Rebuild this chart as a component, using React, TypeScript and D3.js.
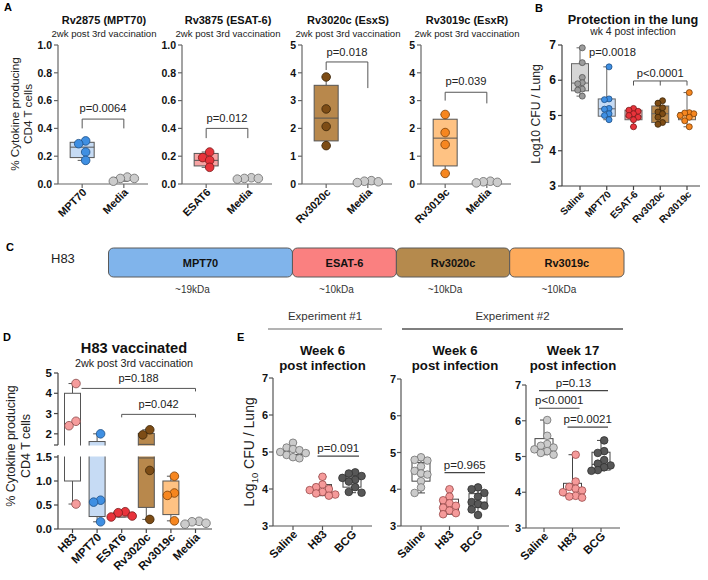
import React from 'react';
import * as d3 from 'd3';

const FONT = "Arial, 'Liberation Sans', Helvetica, sans-serif";

// ---------------- Panel A data ----------------
const A_TITLES = ['Rv2875 (MPT70)', 'Rv3875 (ESAT-6)', 'Rv3020c (EsxS)', 'Rv3019c (EsxR)'];
const A_SUBTITLE = '2wk post 3rd vaccination';
const A_CATEGORIES = [['MPT70', 'Media'], ['ESAT6', 'Media'], ['Rv3020c', 'Media'], ['Rv3019c', 'Media']];
const A_YMAX = [1.0, 1.0, 5, 5];
const A_TICKS = [[0, 0.2, 0.4, 0.6, 0.8, 1.0], [0, 0.2, 0.4, 0.6, 0.8, 1.0], [0, 1, 2, 3, 4, 5], [0, 1, 2, 3, 4, 5]];
const A_TICK_DECIMALS = [1, 1, 0, 0];
const A_POINTS = [
  [[0.31, 0.29, 0.23, 0.17], [0.05, 0.04, 0.04, 0.02]],
  [[0.23, 0.19, 0.17, 0.12], [0.045, 0.04, 0.04, 0.035]],
  [[3.85, 2.7, 2.07, 1.38], [0.12, 0.1, 0.08, 0.05]],
  [[2.5, 1.85, 1.42, 0.38], [0.1, 0.08, 0.06, 0.04]],
];
// [min, q1, median, q3, max]
const A_BOXES = [
  [[0.17, 0.19, 0.265, 0.30, 0.31], [0.02, 0.03, 0.04, 0.045, 0.05]],
  [[0.12, 0.13, 0.17, 0.22, 0.23], [0.035, 0.037, 0.04, 0.043, 0.045]],
  [[1.38, 1.55, 2.37, 3.55, 3.85], [0.05, 0.06, 0.09, 0.11, 0.12]],
  [[0.38, 0.65, 1.65, 2.33, 2.5], [0.04, 0.05, 0.07, 0.09, 0.1]],
];
const A_PVALUES = ['p=0.0064', 'p=0.012', 'p=0.018', 'p=0.039'];
// [bar, left leg end, right leg end, label centre]
const A_BRACKETS = [
  [0.467, 0.40, 0.40, 0.545],
  [0.40, 0.33, 0.33, 0.474],
  [4.39, 4.1, 3.45, 4.75],
  [3.3, 3.0, 2.9, 3.7],
];

// ---------------- Panel B data ----------------
const B_TITLE = 'Protection in the lung';
const B_SUBTITLE = 'wk 4 post infection';
const B_CATEGORIES = ['Saline', 'MPT70', 'ESAT-6', 'Rv3020c', 'Rv3019c'];
const B_TICKS = [3, 4, 5, 6, 7];
const B_POINTS = [
  [6.92, 6.5, 6.08, 5.93, 5.9, 5.75, 5.72, 5.55],
  [6.38, 5.47, 5.45, 5.2, 5.18, 5.05, 5.0, 4.88],
  [5.2, 5.15, 5.12, 5.05, 5.0, 4.95, 4.88, 4.68],
  [5.42, 5.35, 5.22, 5.1, 5.05, 4.95, 4.8, 4.75],
  [5.65, 5.08, 5.07, 5.05, 5.0, 4.95, 4.85, 4.68],
];
const B_BOXES = [
  [5.55, 5.7, 5.92, 6.47, 6.92],
  [4.88, 4.98, 5.19, 5.47, 6.38],
  [4.68, 4.88, 4.98, 5.15, 5.2],
  [4.75, 4.8, 5.05, 5.27, 5.42],
  [4.68, 4.88, 5.0, 5.08, 5.65],
];
const B_P1 = { text: 'p=0.0018', y: 6.8 };
const B_P2 = { text: 'p<0.0001', bar: 5.98, leg: 5.85, label: 6.2 };

// ---------------- Panel C data ----------------
const C_CONSTRUCT = 'H83';
const C_SEGMENTS = ['MPT70', 'ESAT-6', 'Rv3020c', 'Rv3019c'];
const C_SIZES = ['~19kDa', '~10kDa', '~10kDa', '~10kDa'];
const C_REL_LENGTHS = [1.77, 1.0, 1.09, 1.1];

// ---------------- Panel D data ----------------
const D_TITLE = 'H83 vaccinated';
const D_SUBTITLE = '2wk post 3rd vaccination';
const D_CATEGORIES = ['H83', 'MPT70', 'ESAT6', 'Rv3020c', 'Rv3019c', 'Media'];
const D_TICKS_UP = [2, 3, 4, 5];
const D_TICKS_LO = [0, 0.5, 1.0, 1.5];
const D_POINTS = [
  [4.48, 2.62, 2.4, 0.52],
  [2.0, 0.6, 0.56, 0.15],
  [0.36, 0.34, 0.27, 0.25],
  [2.2, 1.95, 1.22, 0.2],
  [1.1, 0.75, 0.7, 0.17],
  [0.16, 0.15, 0.12, 0.1],
];
const D_BOXES = [
  [0.52, 1.0, 2.51, 4.0, 4.48],
  [0.15, 0.26, 0.58, 1.62, 2.0],
  [0.25, 0.25, 0.3, 0.35, 0.36],
  [0.2, 0.45, 1.48, 2.02, 2.2],
  [0.17, 0.3, 0.72, 1.0, 1.1],
  [0.1, 0.11, 0.13, 0.155, 0.16],
];
// [from category, to category, bar value, text]
const D_BRACKETS: [number, number, number, string][] = [
  [0, 5, 4.24, 'p=0.188'],
  [2, 5, 2.96, 'p=0.042'],
];

// ---------------- Panel E data ----------------
const E_EXPERIMENTS = ['Experiment #1', 'Experiment #2'];
const E_TITLES = [['Week 6', 'post infection'], ['Week 6', 'post infection'], ['Week 17', 'post infection']];
const E_CATEGORIES = ['Saline', 'H83', 'BCG'];
const E_TICKS = [3, 4, 5, 6, 7];
const E_POINTS = [
  [
    [5.25, 5.12, 5.08, 5.05, 5.0, 4.97, 4.92, 4.86, 4.83],
    [4.33, 4.12, 4.05, 4.0, 3.97, 3.92, 3.88, 3.85, 3.82],
    [4.45, 4.42, 4.35, 4.3, 4.25, 4.2, 4.05, 3.92, 3.9],
  ],
  [
    [4.87, 4.8, 4.78, 4.62, 4.5, 4.43, 4.4, 4.22, 4.05, 3.9],
    [4.0, 3.8, 3.7, 3.62, 3.55, 3.5, 3.42, 3.35, 3.32],
    [4.05, 4.0, 3.9, 3.8, 3.65, 3.6, 3.55, 3.45, 3.3],
  ],
  [
    [6.02, 5.58, 5.35, 5.3, 5.25, 5.2, 5.15, 5.1, 5.05],
    [5.05, 4.3, 4.15, 4.1, 4.05, 4.0, 3.9, 3.88, 3.85],
    [5.45, 5.15, 5.1, 4.9, 4.8, 4.75, 4.7, 4.62, 4.6],
  ],
];
const E_BOXES = [
  [[4.83, 4.93, 5.02, 5.1, 5.25], [3.82, 3.88, 3.98, 4.12, 4.33], [3.9, 4.05, 4.27, 4.32, 4.45]],
  [[3.9, 4.22, 4.48, 4.73, 4.87], [3.32, 3.38, 3.57, 3.73, 4.0], [3.3, 3.5, 3.65, 3.88, 4.05]],
  [[5.05, 5.12, 5.22, 5.5, 6.02], [3.85, 3.9, 4.08, 4.25, 5.05], [4.6, 4.62, 4.78, 5.12, 5.45]],
];
const E_BRACKETS: [number, number, number, string][][] = [
  [[1, 2, 4.89, 'p=0.091']],
  [[1, 2, 4.45, 'p=0.965']],
  [[0, 2, 6.84, 'p=0.13'], [0, 1, 6.35, 'p<0.0001'], [1, 2, 5.82, 'p=0.0021']],
];

// ---------------- Styles ----------------
const PALETTE: Record<string, { box: string; pt: string; ptStroke: string }> = {
  MPT70: { box: '#c6dbf4', pt: '#3f8fe2', ptStroke: '#1d4f86' },
  ESAT6: { box: '#f7a3a3', pt: '#e8333b', ptStroke: '#7a1a1a' },
  'ESAT-6': { box: '#f7a3a3', pt: '#e8333b', ptStroke: '#7a1a1a' },
  Rv3020c: { box: '#b8884c', pt: '#7d4c15', ptStroke: '#3b2408' },
  Rv3019c: { box: '#fec283', pt: '#f6861f', ptStroke: '#7a3f08' },
  Media: { box: '#e8e8e8', pt: '#cccccc', ptStroke: '#6a6a6a' },
  Saline: { box: '#d6d6d6', pt: '#9c9c9c', ptStroke: '#555555' },
  H83: { box: '#ffffff', pt: '#f59c9c', ptStroke: '#8a4a4a' },
};
const E_PALETTE: Record<string, { pt: string; ptStroke: string }> = {
  Saline: { pt: '#cbcbcb', ptStroke: '#707070' },
  H83: { pt: '#f59a9a', ptStroke: '#9a4a4a' },
  BCG: { pt: '#575757', ptStroke: '#303030' },
};
const C_COLORS = ['#80b4eb', '#fa8080', '#b58a4d', '#fdaa5b'];

// ---------------- Helpers ----------------
function swarmOffsets(vals: number[], yf: (v: number) => number, r: number, tight = 1.7): number[] {
  const idx = vals.map((_, i) => i).sort((a, b) => vals[b] - vals[a]);
  const placed: [number, number][] = [];
  const out = vals.map(() => 0);
  const step = r * tight * 1.05;
  const minD = r * tight;
  for (const i of idx) {
    const y = yf(vals[i]);
    let chosen = 0;
    for (let k = 0; k < 14; k++) {
      const cand = k === 0 ? 0 : (k % 2 === 1 ? -1 : 1) * Math.ceil(k / 2) * step;
      if (placed.every(([px, py]) => Math.hypot(px - cand, py - y) >= minD)) {
        chosen = cand;
        break;
      }
    }
    placed.push([chosen, y]);
    out[i] = chosen;
  }
  const ext = d3.extent(out) as [number, number];
  const shift = (ext[0] + ext[1]) / 2;
  return out.map((o) => o - shift);
}

function Box({ cx, w, stats, y, fill, stroke = '#555', capW = 9, sw = 1 }: any) {
  const [mn, q1, md, q3, mx] = stats;
  return (
    <g stroke={stroke} strokeWidth={sw}>
      <line x1={cx} x2={cx} y1={y(mx)} y2={y(q3)} />
      <line x1={cx} x2={cx} y1={y(q1)} y2={y(mn)} />
      <line x1={cx - capW / 2} x2={cx + capW / 2} y1={y(mx)} y2={y(mx)} />
      <line x1={cx - capW / 2} x2={cx + capW / 2} y1={y(mn)} y2={y(mn)} />
      <rect x={cx - w / 2} y={y(q3)} width={w} height={Math.max(0.5, y(q1) - y(q3))} fill={fill} />
      <line x1={cx - w / 2} x2={cx + w / 2} y1={y(md)} y2={y(md)} />
    </g>
  );
}

function Points({ cx, vals, y, r, fill, stroke, tight = 1.7 }: any) {
  const offs = swarmOffsets(vals, y, r, tight);
  return (
    <g>
      {vals.map((v: number, i: number) => (
        <circle key={i} cx={cx + offs[i]} cy={y(v)} r={r} fill={fill} stroke={stroke} strokeWidth={0.8} />
      ))}
    </g>
  );
}

function XLabel({ x, y, text, size }: any) {
  return (
    <text transform={`translate(${x},${y}) rotate(-45)`} textAnchor="end" fontSize={size} fontWeight="bold" fill="#111">
      {text}
    </text>
  );
}

// ---------------- Panel A ----------------
function PanelA() {
  const x0s = [58, 182, 302, 421];
  const axW = 90;
  const yTop = 45;
  const yBot = 184;
  return (
    <g>
      <text x={4} y={11} fontSize={11} fontWeight="bold">A</text>
      <text transform="translate(19,114) rotate(-90)" textAnchor="middle" fontSize={11.7} fill="#222">% Cytokine producing</text>
      <text transform="translate(32,114) rotate(-90)" textAnchor="middle" fontSize={11.7} fill="#222">CD4 T cells</text>
      {A_TITLES.map((title, s) => {
        const x0 = x0s[s];
        const cats = A_CATEGORIES[s];
        const x = d3.scalePoint<string>().domain(cats).range([x0, x0 + axW]).padding(0.58);
        const y = d3.scaleLinear().domain([0, A_YMAX[s]]).range([yBot, yTop]);
        const [bar, lLeg, rLeg, lab] = A_BRACKETS[s];
        const xa = x(cats[0])!;
        const xb = x(cats[1])!;
        return (
          <g key={s}>
            <text x={x0 + 46} y={24} textAnchor="middle" fontSize={11} fontWeight="bold" fill="#111">{title}</text>
            <text x={x0 + 46} y={36.5} textAnchor="middle" fontSize={9.6} fill="#222">{A_SUBTITLE}</text>
            <line x1={x0} x2={x0} y1={yTop} y2={yBot} stroke="#666" strokeWidth={1.2} />
            <line x1={x0} x2={x0 + axW} y1={yBot} y2={yBot} stroke="#666" strokeWidth={1.2} />
            {A_TICKS[s].map((t) => (
              <g key={t}>
                <line x1={x0 - 4} x2={x0} y1={y(t)} y2={y(t)} stroke="#666" strokeWidth={1.2} />
                <text x={x0 - 6} y={y(t) + 3.8} textAnchor="end" fontSize={10.5} fontWeight="bold" fill="#111">
                  {t.toFixed(A_TICK_DECIMALS[s])}
                </text>
              </g>
            ))}
            {cats.map((c, ci) => {
              const pal = PALETTE[c];
              return (
                <g key={c}>
                  <line x1={x(c)!} x2={x(c)!} y1={yBot} y2={yBot + 4} stroke="#666" strokeWidth={1.2} />
                  <Box cx={x(c)!} w={24} stats={A_BOXES[s][ci]} y={y} fill={pal.box} stroke="#555" capW={9} />
                  <Points cx={x(c)!} vals={A_POINTS[s][ci]} y={y} r={4.3} fill={pal.pt} stroke={pal.ptStroke} tight={1.55} />
                  <XLabel x={x(c)! + 5} y={yBot + 9} text={c} size={10.8} />
                </g>
              );
            })}
            <path d={`M${xa},${y(lLeg)}V${y(bar)}H${xb}V${y(rLeg)}`} fill="none" stroke="#555" strokeWidth={1} />
            <text x={(xa + xb) / 2} y={y(lab) + 4} textAnchor="middle" fontSize={11.2} fill="#222">{A_PVALUES[s]}</text>
          </g>
        );
      })}
    </g>
  );
}

// ---------------- Panel B ----------------
function PanelB() {
  const x0 = 562;
  const x1 = 700;
  const yTop = 45;
  const yBot = 186;
  const x = d3.scalePoint<string>().domain(B_CATEGORIES).range([580, 687]);
  const y = d3.scaleLinear().domain([3, 7]).range([yBot, yTop]);
  const xa = x('ESAT-6')!;
  const xm = x('Rv3020c')!;
  const xb = x('Rv3019c')!;
  return (
    <g>
      <text x={535} y={12} fontSize={11} fontWeight="bold">B</text>
      <text x={633} y={24} textAnchor="middle" fontSize={12.7} fontWeight="bold" fill="#111">{B_TITLE}</text>
      <text x={633} y={35} textAnchor="middle" fontSize={10.4} fill="#222">{B_SUBTITLE}</text>
      <text transform="translate(540,114) rotate(-90)" textAnchor="middle" fontSize={12.2} fill="#222">Log10 CFU / Lung</text>
      <line x1={x0} x2={x0} y1={yTop} y2={yBot} stroke="#444" strokeWidth={1.2} />
      <line x1={x0} x2={x1} y1={yBot} y2={yBot} stroke="#444" strokeWidth={1.2} />
      {B_TICKS.map((t) => (
        <g key={t}>
          <line x1={x0 - 4} x2={x0} y1={y(t)} y2={y(t)} stroke="#444" strokeWidth={1.2} />
          <text x={x0 - 6} y={y(t) + 4} textAnchor="end" fontSize={12} fontWeight="bold" fill="#111">{t}</text>
        </g>
      ))}
      {B_CATEGORIES.map((c, ci) => {
        const pal = PALETTE[c];
        return (
          <g key={c}>
            <line x1={x(c)!} x2={x(c)!} y1={yBot} y2={yBot + 4} stroke="#444" strokeWidth={1.2} />
            <Box cx={x(c)!} w={17} stats={B_BOXES[ci]} y={y} fill={pal.box} stroke="#666" capW={7} />
            <Points cx={x(c)!} vals={B_POINTS[ci]} y={y} r={3} fill={pal.pt} stroke={pal.ptStroke} tight={1.45} />
            <XLabel x={x(c)! + 5} y={yBot + 9} text={c} size={10} />
          </g>
        );
      })}
      <text x={x('Saline')! + 9} y={y(B_P1.y) + 4} fontSize={11.2} fill="#222">{B_P1.text}</text>
      <path d={`M${xa},${y(B_P2.leg)}V${y(B_P2.bar)}H${xb}V${y(B_P2.leg)}M${xm},${y(B_P2.bar)}V${y(B_P2.leg)}`} fill="none" stroke="#555" strokeWidth={1} />
      <text x={xm} y={y(B_P2.label) + 4} textAnchor="middle" fontSize={11.2} fill="#222">{B_P2.text}</text>
    </g>
  );
}

// ---------------- Panel C ----------------
function PanelC() {
  const cum = C_REL_LENGTHS.reduce((acc: number[], v) => [...acc, acc[acc.length - 1] + v], [0]);
  const x = d3.scaleLinear().domain([0, cum[cum.length - 1]]).range([108.5, 624]);
  const yT = 248;
  const yB = 277;
  return (
    <g>
      <text x={6} y={251} fontSize={11} fontWeight="bold">C</text>
      <text x={51} y={263} fontSize={13} fill="#222">{C_CONSTRUCT}</text>
      {C_SEGMENTS.map((s, i) => {
        const a = x(cum[i]);
        const b = x(cum[i + 1]);
        return (
          <g key={s}>
            <rect x={a} y={yT} width={b - a} height={yB - yT} rx={5} fill={C_COLORS[i]} stroke="#5a5a5a" strokeWidth={1} />
            <text x={(a + b) / 2} y={(yT + yB) / 2 + 4} textAnchor="middle" fontSize={11} fontWeight="bold" fill="#111">{s}</text>
            <text x={(a + b) / 2 - 8} y={293} textAnchor="middle" fontSize={10} fill="#333">{C_SIZES[i]}</text>
          </g>
        );
      })}
    </g>
  );
}

// ---------------- Panel D ----------------
function PanelD() {
  const x0 = 58;
  const x1 = 212;
  const x = d3.scalePoint<string>().domain(D_CATEGORIES).range([72.5, 195.5]);
  const yUp = d3.scaleLinear().domain([1.4, 5]).range([446, 373]);
  const yLo = d3.scaleLinear().domain([0, 1.5]).range([529, 457]);
  const yAny = (v: number) => (v >= 1.45 ? yUp(v) : yLo(v));
  return (
    <g>
      <defs>
        <clipPath id="dUp"><rect x={40} y={360} width={200} height={85.5} /></clipPath>
        <clipPath id="dLo"><rect x={40} y={456.5} width={200} height={90} /></clipPath>
      </defs>
      <text x={3} y={341} fontSize={11} fontWeight="bold">D</text>
      <text x={134} y={353} textAnchor="middle" fontSize={14.6} fontWeight="bold" fill="#111">{D_TITLE}</text>
      <text x={134} y={367} textAnchor="middle" fontSize={10.8} fill="#222">{D_SUBTITLE}</text>
      <text transform="translate(15,446) rotate(-90)" textAnchor="middle" fontSize={12.5} fill="#222">% Cytokine producing</text>
      <text transform="translate(30,446) rotate(-90)" textAnchor="middle" fontSize={12.5} fill="#222">CD4 T cells</text>
      <line x1={x0} x2={x0} y1={373} y2={445} stroke="#444" strokeWidth={1.2} />
      <line x1={x0} x2={x0} y1={455} y2={529} stroke="#444" strokeWidth={1.2} />
      <line x1={x0 - 4} x2={x0} y1={445} y2={445} stroke="#444" strokeWidth={1.2} />
      <line x1={x0} x2={x1} y1={529} y2={529} stroke="#444" strokeWidth={1.2} />
      {D_TICKS_UP.map((t) => (
        <g key={'u' + t}>
          <line x1={x0 - 4} x2={x0} y1={yUp(t)} y2={yUp(t)} stroke="#444" strokeWidth={1.2} />
          <text x={x0 - 6} y={yUp(t) + 4} textAnchor="end" fontSize={11.5} fontWeight="bold" fill="#111">{t}</text>
        </g>
      ))}
      {D_TICKS_LO.map((t) => (
        <g key={'l' + t}>
          <line x1={x0 - 4} x2={x0} y1={yLo(t)} y2={yLo(t)} stroke="#444" strokeWidth={1.2} />
          <text x={x0 - 6} y={yLo(t) + 4} textAnchor="end" fontSize={11.5} fontWeight="bold" fill="#111">{t.toFixed(1)}</text>
        </g>
      ))}
      {D_CATEGORIES.map((c, ci) => {
        const pal = PALETTE[c];
        const cx = x(c)!;
        return (
          <g key={c}>
            <line x1={cx} x2={cx} y1={529} y2={533} stroke="#444" strokeWidth={1.2} />
            <g clipPath="url(#dUp)">
              <Box cx={cx} w={16} stats={D_BOXES[ci]} y={yUp} fill={pal.box} stroke="#555" capW={8} />
            </g>
            <g clipPath="url(#dLo)">
              <Box cx={cx} w={16} stats={D_BOXES[ci]} y={yLo} fill={pal.box} stroke="#555" capW={8} />
            </g>
            <Points cx={cx} vals={D_POINTS[ci]} y={yAny} r={4.3} fill={pal.pt} stroke={pal.ptStroke} tight={1.55} />
            <XLabel x={cx + 5} y={538} text={c} size={11.5} />
          </g>
        );
      })}
      {D_BRACKETS.map(([a, b, v, t], i) => {
        const xa = i === 0 ? x(D_CATEGORIES[a])! + 9 : x(D_CATEGORIES[a])!;
        const xb = x(D_CATEGORIES[b])!;
        const yy = yUp(v);
        return (
          <g key={t}>
            <path d={i === 0 ? `M${xa},${yy}H${xb}V${yy + 3}` : `M${xa},${yy + 3}V${yy}H${xb}V${yy + 3}`} fill="none" stroke="#555" strokeWidth={1} />
            <text x={(xa + xb) / 2} y={yy - 6} textAnchor="middle" fontSize={11} fill="#222">{t}</text>
          </g>
        );
      })}
    </g>
  );
}

// ---------------- Panel E ----------------
function PanelE() {
  const layout = [
    { x0: 273, first: 20, step: 29.5, len: 99, yTop: 378, yBot: 526 },
    { x0: 401, first: 20, step: 28.5, len: 108, yTop: 379, yBot: 526 },
    { x0: 526, first: 18, step: 28.5, len: 94, yTop: 385, yBot: 528 },
  ];
  const expLines = [
    { x1: 268, x2: 382, color: '#9a9a9a' },
    { x1: 402, x2: 623, color: '#555' },
  ];
  return (
    <g>
      <text x={237} y={341} fontSize={11} fontWeight="bold">E</text>
      {E_EXPERIMENTS.map((e, i) => (
        <g key={e}>
          <text x={(expLines[i].x1 + expLines[i].x2) / 2} y={320} textAnchor="middle" fontSize={11.5} fill="#333">{e}</text>
          <line x1={expLines[i].x1} x2={expLines[i].x2} y1={329} y2={329} stroke={expLines[i].color} strokeWidth={1.5} />
        </g>
      ))}
      <text transform="translate(254,452) rotate(-90)" textAnchor="middle" fontSize={14} fill="#222">
        Log<tspan fontSize={9.5} dy={4}>10</tspan>
        <tspan dy={-4}> CFU / Lung</tspan>
      </text>
      {layout.map((L, s) => {
        const x = d3.scalePoint<string>().domain(E_CATEGORIES).range([L.x0 + L.first, L.x0 + L.first + 2 * L.step]);
        const y = d3.scaleLinear().domain([3, 7]).range([L.yBot, L.yTop]);
        const cx0 = L.x0 + L.len / 2;
        return (
          <g key={s}>
            <text x={cx0} y={355} textAnchor="middle" fontSize={13.2} fontWeight="bold" fill="#111">{E_TITLES[s][0]}</text>
            <text x={cx0} y={370} textAnchor="middle" fontSize={13.2} fontWeight="bold" fill="#111">{E_TITLES[s][1]}</text>
            <line x1={L.x0} x2={L.x0} y1={L.yTop} y2={L.yBot} stroke="#555" strokeWidth={1.2} />
            <line x1={L.x0} x2={L.x0 + L.len} y1={L.yBot} y2={L.yBot} stroke="#555" strokeWidth={1.2} />
            {E_TICKS.map((t) => (
              <g key={t}>
                <line x1={L.x0 - 4} x2={L.x0} y1={y(t)} y2={y(t)} stroke="#555" strokeWidth={1.2} />
                <text x={L.x0 - 5} y={y(t) + 4} textAnchor="end" fontSize={11} fontWeight="bold" fill="#111">{t}</text>
              </g>
            ))}
            {E_CATEGORIES.map((c, ci) => {
              const pal = E_PALETTE[c];
              const cx = x(c)!;
              return (
                <g key={c}>
                  <line x1={cx} x2={cx} y1={L.yBot} y2={L.yBot + 4} stroke="#555" strokeWidth={1.2} />
                  <Box cx={cx} w={18} stats={E_BOXES[s][ci]} y={y} fill="#fff" stroke="#444" capW={8} />
                  <Points cx={cx} vals={E_POINTS[s][ci]} y={y} r={3.8} fill={pal.pt} stroke={pal.ptStroke} tight={1.6} />
                  <XLabel x={cx + 5} y={L.yBot + 9} text={c} size={11.5} />
                </g>
              );
            })}
            {E_BRACKETS[s].map(([a, b, v, t]) => {
              const xa = x(E_CATEGORIES[a])! - 5;
              const xb = x(E_CATEGORIES[b])! + 7;
              return (
                <g key={t}>
                  <line x1={xa} x2={xb} y1={y(v)} y2={y(v)} stroke="#444" strokeWidth={1.2} />
                  <text x={(xa + xb) / 2} y={y(v) - 4} textAnchor="middle" fontSize={11.5} fill="#222">{t}</text>
                </g>
              );
            })}
          </g>
        );
      })}
    </g>
  );
}

export default function App() {
  return (
    <svg width={708} height={580} viewBox="0 0 708 580" style={{ position: 'absolute', left: 0, top: 0 }} fontFamily={FONT}>
      <rect width={708} height={580} fill="#fff" />
      <PanelA />
      <PanelB />
      <PanelC />
      <PanelD />
      <PanelE />
    </svg>
  );
}
